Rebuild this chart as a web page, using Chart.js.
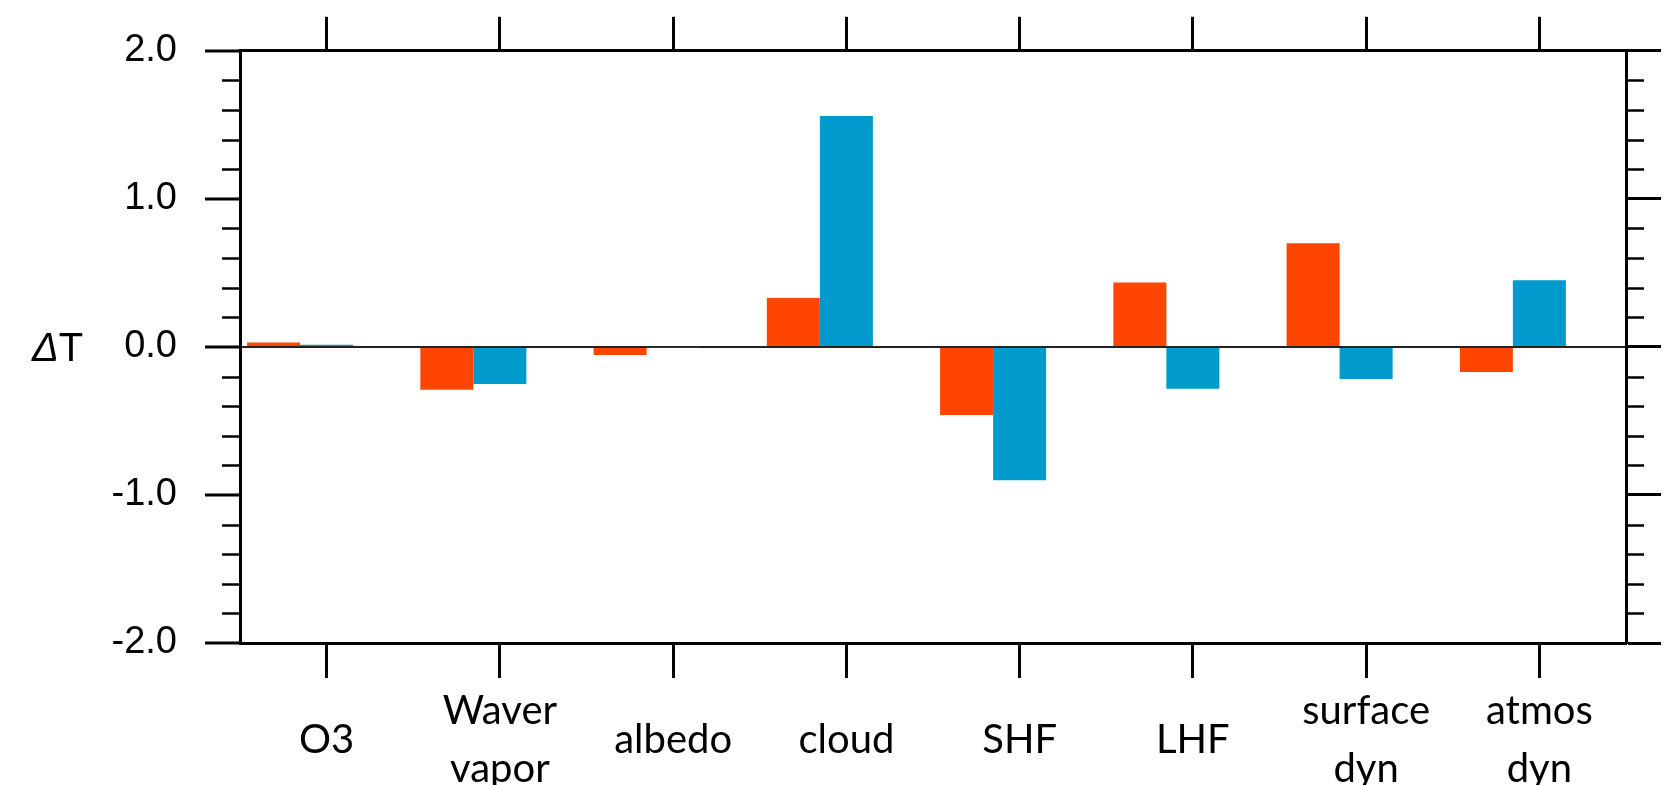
<!DOCTYPE html>
<html>
<head>
<meta charset="utf-8">
<script src="https://cdn.jsdelivr.net/npm/chart.js@4/dist/chart.umd.min.js"></script>
<style>
  html, body { margin: 0; padding: 0; background: #fff; }
  #wrap { width: 1665px; height: 785px; position: relative; }
</style>
</head>
<body>
<div id="wrap"><canvas id="chart"></canvas></div>
<script>
const categories = [
  "O3",
  ["Waver", "vapor"],
  "albedo",
  "cloud",
  "SHF",
  "LHF",
  ["surface", "dyn"],
  ["atmos", "dyn"],
];
const redValues = [0.03, -0.29, -0.055, 0.33, -0.46, 0.435, 0.70, -0.17];
const blueValues = [0.015, -0.25, -0.006, 1.56, -0.90, -0.283, -0.216, 0.45];
const yTicks = [-2, -1, 0, 1, 2];
const yMinorStep = 0.2;

const RED = "#ff4500";
const BLUE = "#009acd";

// minor ticks on both sides of the box, plus the ΔT label
const extras = {
  id: "extras",
  afterDraw(chart) {
    const { ctx, chartArea } = chart;
    const y = chart.scales.y;
    ctx.save();
    ctx.strokeStyle = "#000";
    ctx.lineWidth = 2.5;
    const n = Math.round((yTicks[yTicks.length - 1] - yTicks[0]) / yMinorStep);
    for (let k = 0; k <= n; k++) {
      const v = yTicks[0] + k * yMinorStep;
      if (k % 5 === 0) continue;
      const py = Math.round(y.getPixelForValue(v)) + 0.5;
      ctx.beginPath();
      ctx.moveTo(chartArea.left - 18, py);
      ctx.lineTo(chartArea.left, py);
      ctx.moveTo(chartArea.right, py);
      ctx.lineTo(chartArea.right + 18, py);
      ctx.stroke();
    }
    const zy = y.getPixelForValue(0);
    ctx.fillStyle = "#000";
    ctx.textBaseline = "middle";
    ctx.textAlign = "left";
    ctx.font = "italic 40px 'Liberation Sans', Arial, sans-serif";
    ctx.fillText("\u0394", 32, zy + 3);
    const w = ctx.measureText("\u0394").width;
    ctx.font = "40px 'Liberation Sans', Arial, sans-serif";
    ctx.fillText("T", 32 + w, zy + 3);
    ctx.restore();
  },
};

function initChart() {
  const ctx = document.getElementById("chart").getContext("2d");

  new Chart(ctx, {
    type: "bar",
    data: {
      labels: categories,
      datasets: [
        { label: "red", data: redValues, backgroundColor: RED },
        { label: "blue", data: blueValues, backgroundColor: BLUE },
        { label: "spacer", data: [], backgroundColor: "transparent" },
      ],
    },
    options: {
      responsive: true,
      maintainAspectRatio: false,
      animation: false,
      layout: { padding: 0 },
      categoryPercentage: 0.918,
      barPercentage: 1.0,
      scales: {
        x: {
          position: "bottom",
          offset: true,
          grid: {
            offset: false,
            drawOnChartArea: false,
            drawTicks: true,
            tickLength: 35,
            tickWidth: 3,
            tickColor: "#000",
          },
          border: { display: true, color: "#000", width: 3 },
          ticks: {
            autoSkip: false,
            maxRotation: 0,
            minRotation: 0,
            padding: 33,
            crossAlign: "center",
            color: "#000",
            font: { family: "Lato, 'Open Sans', sans-serif", size: 40, lineHeight: 1.45 },
          },
          afterFit(scale) { scale.height = 142; },
        },
        xTop: {
          position: "top",
          offset: true,
          grid: {
            offset: false,
            drawOnChartArea: false,
            tickLength: 34,
            tickWidth: 3,
            tickColor: "#000",
          },
          border: { display: true, color: "#000", width: 3 },
          ticks: { display: false, autoSkip: false },
          afterFit(scale) { scale.height = 50; },
        },
        y: {
          position: "left",
          min: yTicks[0],
          max: yTicks[yTicks.length - 1],
          afterBuildTicks(scale) {
            scale.ticks = yTicks.map((v) => ({ value: v }));
          },
          grid: {
            drawOnChartArea: true,
            color: (c) => (c.tick && c.tick.value === 0 ? "#222" : "transparent"),
            lineWidth: 2,
            tickLength: 35,
            tickWidth: 3,
            tickColor: "#000",
          },
          border: { display: true, color: "#000", width: 3 },
          ticks: {
            padding: 28,
            color: "#000",
            font: { family: "'Liberation Sans', Arial, sans-serif", size: 38 },
            callback: (v) => Number(v).toFixed(1),
          },
          afterFit(scale) { scale.width = 240; },
        },
        yRight: {
          position: "right",
          min: yTicks[0],
          max: yTicks[yTicks.length - 1],
          afterBuildTicks(scale) {
            scale.ticks = yTicks.map((v) => ({ value: v }));
          },
          grid: {
            drawOnChartArea: false,
            tickLength: 35,
            tickWidth: 3,
            tickColor: "#000",
          },
          border: { display: true, color: "#000", width: 3 },
          ticks: { display: false },
          afterFit(scale) { scale.width = 39; },
        },
      },
      plugins: {
        legend: { display: false },
        tooltip: { enabled: false },
      },
    },
    plugins: [extras],
  });
}

document.addEventListener("DOMContentLoaded", initChart);
</script>
</body>
</html>
